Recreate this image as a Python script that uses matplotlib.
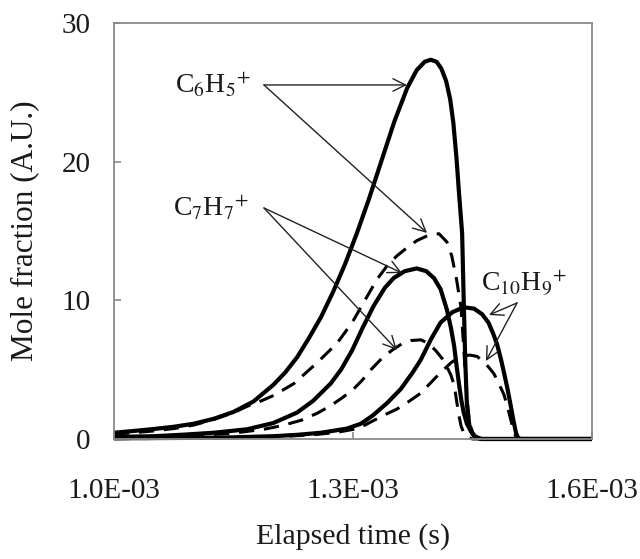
import matplotlib
matplotlib.use("Agg")
import matplotlib.pyplot as plt

plt.rcParams['font.family'] = ['Liberation Serif', 'DejaVu Serif']
plt.rcParams['mathtext.fontset'] = 'stix'

# ---- data (time in ms, scaled to s when plotted; mole fraction in A.U.) ----
c6h5_solid_t = [1.000, 1.025, 1.050, 1.075, 1.100, 1.125, 1.150, 1.175, 1.200, 1.215, 1.230, 1.245,
                1.260, 1.275, 1.290, 1.305, 1.320, 1.336, 1.352, 1.368, 1.380, 1.390, 1.3975, 1.405,
                1.411, 1.417, 1.422, 1.426, 1.430, 1.433, 1.437, 1.439, 1.441, 1.443, 1.446, 1.450,
                1.455, 1.462, 1.600]
c6h5_solid_v = [0.45, 0.58, 0.72, 0.88, 1.10, 1.45, 1.95, 2.70, 3.90, 4.80, 5.90, 7.30,
                8.80, 10.6, 12.6, 14.85, 17.3, 20.1, 22.9, 25.3, 26.6, 27.2, 27.35, 27.2,
                26.7, 25.8, 24.5, 22.8, 20.2, 17.8, 14.85, 10.0, 5.5, 2.5, 1.0, 0.35,
                0.10, 0.0, 0.0]

c6h5_dash_t = [1.000, 1.025, 1.050, 1.075, 1.100, 1.125, 1.150, 1.167, 1.185, 1.201, 1.226, 1.255,
               1.280, 1.299, 1.318, 1.330, 1.343, 1.355, 1.368, 1.380, 1.395, 1.408, 1.418, 1.424,
               1.430, 1.4356, 1.439, 1.442, 1.445, 1.448, 1.452, 1.458, 1.600]
c6h5_dash_v = [0.35, 0.45, 0.58, 0.75, 1.00, 1.40, 1.90, 2.35, 2.75, 3.15, 4.00, 5.50,
               6.90, 8.40, 10.3, 11.5, 12.5, 13.2, 13.8, 14.3, 14.7, 14.8, 14.2, 13.2,
               11.5, 9.5, 6.6, 3.8, 1.8, 0.8, 0.25, 0.0, 0.0]

c7h7_solid_t = [1.000, 1.050, 1.084, 1.125, 1.167, 1.200, 1.2297, 1.250, 1.272, 1.285, 1.299, 1.312,
                1.326, 1.340, 1.351, 1.365, 1.380, 1.392, 1.4017, 1.410, 1.418, 1.423, 1.427, 1.430,
                1.433, 1.436, 1.439, 1.443, 1.448, 1.453, 1.460, 1.600]
c7h7_solid_v = [0.15, 0.20, 0.30, 0.45, 0.70, 1.15, 1.90, 2.75, 4.00, 5.00, 6.40, 8.00,
                9.60, 10.9, 11.6, 12.1, 12.3, 12.1, 11.6, 10.8, 9.30, 8.00, 6.70, 5.30,
                4.00, 2.80, 1.90, 1.10, 0.55, 0.20, 0.0, 0.0]

c7h7_dash_t = [1.000, 1.050, 1.100, 1.150, 1.188, 1.210, 1.235, 1.255, 1.272, 1.286, 1.299, 1.311,
               1.3226, 1.336, 1.349, 1.361, 1.373, 1.385, 1.395, 1.405, 1.412, 1.418, 1.423, 1.427,
               1.4305, 1.433, 1.4356, 1.439, 1.443, 1.450, 1.600]
c7h7_dash_v = [0.10, 0.15, 0.25, 0.42, 0.70, 0.95, 1.35, 1.85, 2.40, 2.95, 3.50, 4.20,
               5.00, 5.80, 6.40, 6.85, 7.10, 7.15, 6.90, 6.30, 5.80, 5.20, 4.60, 3.90,
               2.60, 1.70, 0.95, 0.45, 0.15, 0.0, 0.0]

c10h9_solid_t = [1.000, 1.100, 1.150, 1.200, 1.230, 1.260, 1.2925, 1.310, 1.325, 1.343, 1.360, 1.375,
                 1.385, 1.398, 1.410, 1.425, 1.439, 1.452, 1.462, 1.470, 1.476, 1.481, 1.4855, 1.4895,
                 1.494, 1.498, 1.5015, 1.5046, 1.507, 1.510, 1.600]
c10h9_solid_v = [0.05, 0.08, 0.12, 0.20, 0.30, 0.45, 0.75, 1.10, 1.70, 2.60, 3.60, 4.80,
                 5.70, 7.20, 8.40, 9.15, 9.50, 9.40, 9.00, 8.40, 7.60, 6.80, 5.80, 4.80,
                 3.60, 2.40, 1.30, 0.45, 0.10, 0.0, 0.0]

c10h9_dash_t = [1.000, 1.100, 1.200, 1.250, 1.280, 1.301, 1.315, 1.3265, 1.340, 1.355, 1.370, 1.385,
                1.395, 1.405, 1.414, 1.423, 1.431, 1.439, 1.447, 1.456, 1.463, 1.470, 1.477, 1.483,
                1.4895, 1.494, 1.498, 1.502, 1.505, 1.508, 1.600]
c10h9_dash_v = [0.02, 0.05, 0.15, 0.30, 0.48, 0.70, 1.00, 1.35, 1.75, 2.15, 2.70, 3.30,
                3.90, 4.50, 5.00, 5.50, 5.80, 6.00, 6.05, 5.95, 5.60, 5.20, 4.70, 4.00,
                3.20, 2.30, 1.40, 0.50, 0.10, 0.0, 0.0]

x_ticks = [1.0e-3, 1.3e-3, 1.6e-3]
x_tick_labels = ['1.0E-03', '1.3E-03', '1.6E-03']
y_ticks = [0, 10, 20, 30]
y_tick_labels = ['0', '10', '20', '30']

labels = [r'C$_{6}$H$_{5}$$^{+}$', r'C$_{7}$H$_{7}$$^{+}$', r'C$_{10}$H$_{9}$$^{+}$']

fig = plt.figure(figsize=(6.4, 5.59), dpi=100)
ax = fig.add_axes([0.178, 0.2147, 0.747, 0.7442])

s = 1e-3
solid_kw = dict(color='black', lw=3.0, solid_capstyle='butt', solid_joinstyle='round', clip_on=False)
dash_kw = dict(color='black', lw=2.2, linestyle=(0, (5.0, 3.2)), dash_joinstyle='round', clip_on=False)

ax.plot([t * s for t in c6h5_solid_t], c6h5_solid_v, **solid_kw)
ax.plot([t * s for t in c6h5_dash_t], c6h5_dash_v, **dash_kw)
ax.plot([t * s for t in c7h7_solid_t], c7h7_solid_v, **solid_kw)
ax.plot([t * s for t in c7h7_dash_t], c7h7_dash_v, **dash_kw)
ax.plot([t * s for t in c10h9_solid_t], c10h9_solid_v, **solid_kw)
ax.plot([t * s for t in c10h9_dash_t], c10h9_dash_v, **dash_kw)

ax.set_xlim(1.0e-3, 1.6e-3)
ax.set_ylim(0, 30)
ax.set_xticks(x_ticks)
ax.set_xticklabels(x_tick_labels)
ax.set_yticks(y_ticks)
ax.set_yticklabels(y_tick_labels)

for sp in ax.spines.values():
    sp.set_color('#8a8a8a')
    sp.set_linewidth(1.3)

ax.tick_params(axis='both', direction='in', length=5, width=1.2, color='#8a8a8a',
               labelsize=21, labelcolor='#1a1a1a')
ax.tick_params(axis='y', pad=17)
ax.tick_params(axis='x', pad=28)

ax.set_xlabel('Elapsed time (s)', fontsize=21.5, color='#1a1a1a', labelpad=14)
ax.set_ylabel('Mole fraction (A.U.)', fontsize=22.5, color='#1a1a1a', labelpad=16)

arrow_kw = dict(arrowstyle='->,head_length=0.9,head_width=0.45', color='#222222', lw=1.0,
                shrinkA=0, shrinkB=0)

# C6H5+
ax.text(1.172e-3, 25.53, labels[0], fontsize=20, ha='right', va='center', color='#1a1a1a')
ax.annotate('', xy=(1.3678e-3, 25.53), xytext=(1.1883e-3, 25.53), arrowprops=arrow_kw)
ax.annotate('', xy=(1.3929e-3, 14.86), xytext=(1.1883e-3, 25.53), arrowprops=arrow_kw)
# C7H7+
ax.text(1.1695e-3, 16.66, labels[1], fontsize=20, ha='right', va='center', color='#1a1a1a')
ax.annotate('', xy=(1.3615e-3, 11.97), xytext=(1.1883e-3, 16.66), arrowprops=arrow_kw)
ax.annotate('', xy=(1.3552e-3, 6.42), xytext=(1.1883e-3, 16.66), arrowprops=arrow_kw)
# C10H9+
ax.text(1.5146e-3, 11.25, labels[2], fontsize=20, ha='center', va='center', color='#1a1a1a')
ax.annotate('', xy=(1.4707e-3, 8.94), xytext=(1.5059e-3, 9.81), arrowprops=arrow_kw)
ax.annotate('', xy=(1.4669e-3, 5.62), xytext=(1.5059e-3, 9.81), arrowprops=arrow_kw)

fig.savefig('out.png', dpi=100)
